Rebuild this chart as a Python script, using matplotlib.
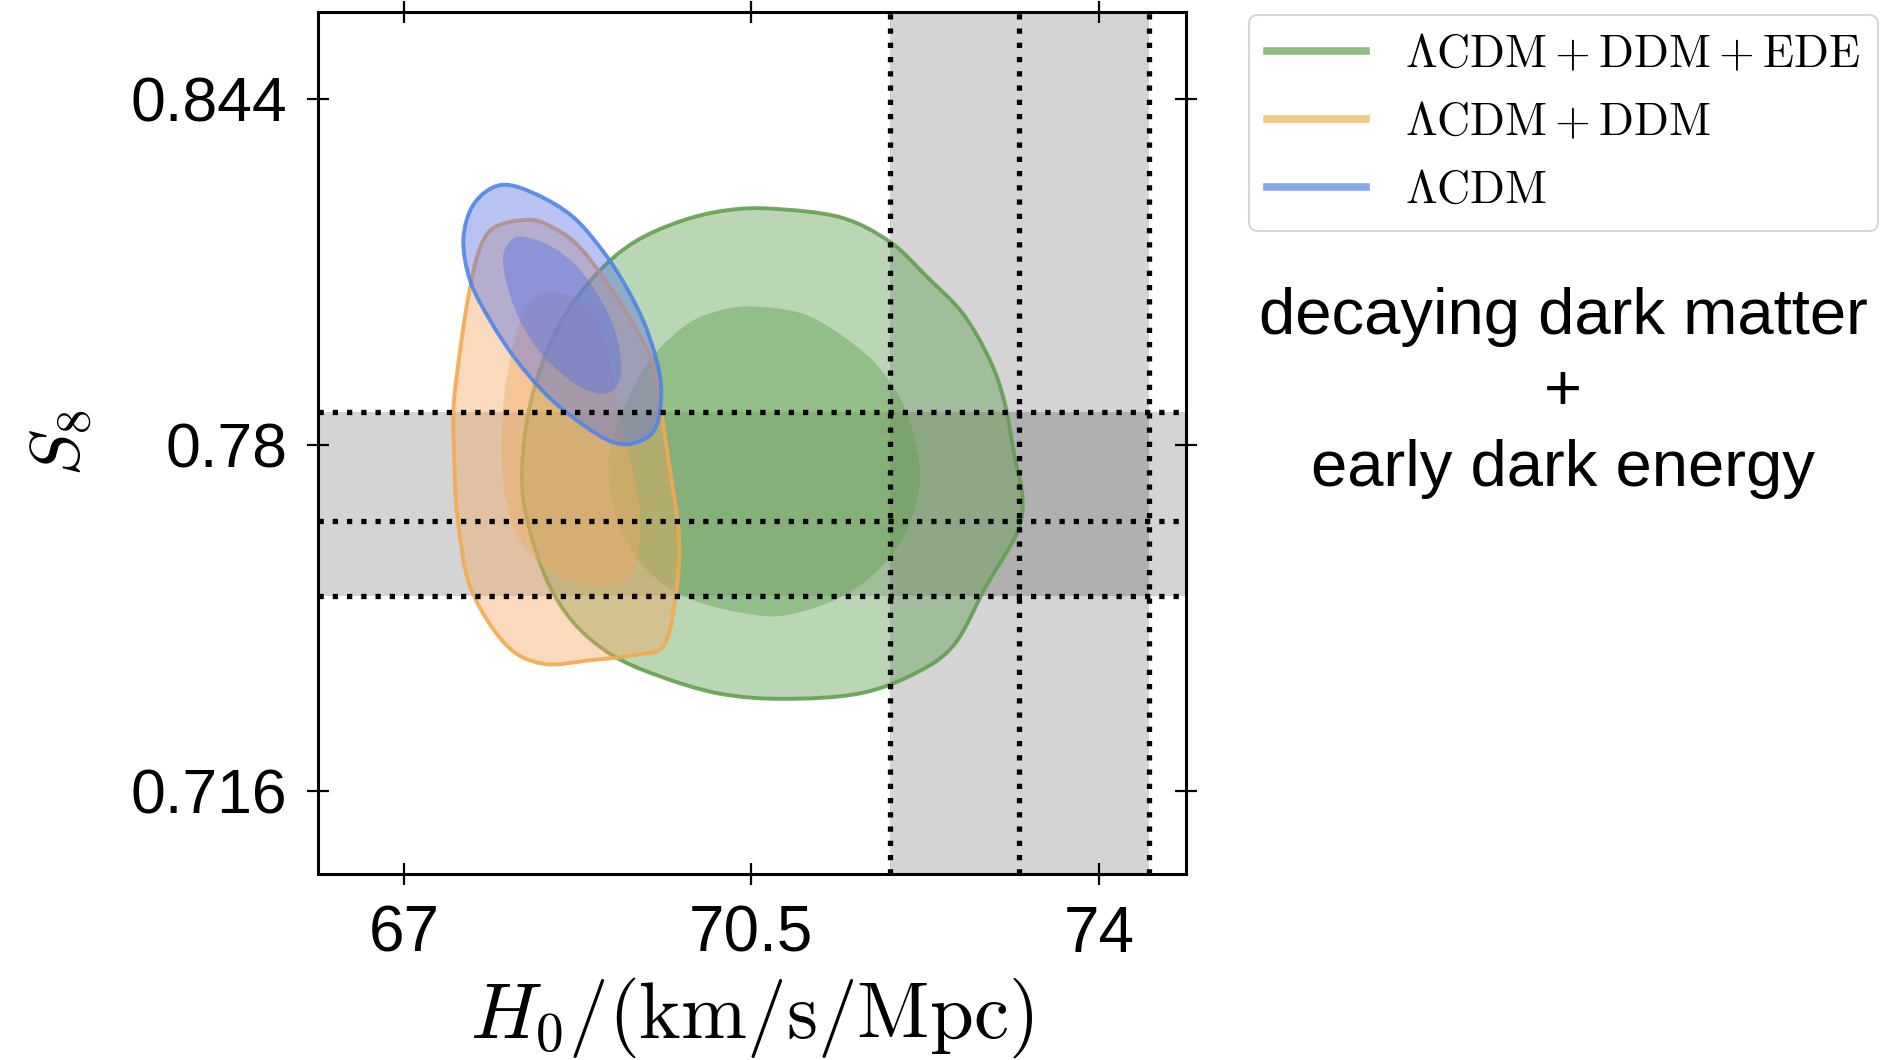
import numpy as np
import matplotlib
matplotlib.use("Agg")
import matplotlib.pyplot as plt
from matplotlib.path import Path
from matplotlib.patches import PathPatch
from matplotlib.lines import Line2D

plt.rcParams["mathtext.fontset"] = "cm"
plt.rcParams["font.family"] = ["Liberation Sans", "DejaVu Sans"]

# SH0ES H0 and KiDS-1000 S8 bands
H0_LOCAL = [71.9, 73.2, 74.5]
S8_WL = [0.752, 0.766, 0.786]

# 68% / 95% contours in the (H0, S8) plane
EDE_95_H0 = [70.71, 71.40, 71.90, 72.28, 72.63, 72.90, 73.05, 73.15, 73.23, 73.18,
             72.86, 72.55, 72.17, 71.59, 70.82, 70.17, 69.56, 69.09, 68.71, 68.44,
             68.25, 68.19, 68.23, 68.36, 68.59, 68.94, 69.32, 69.79, 70.25]
EDE_95_S8 = [0.8237, 0.8221, 0.8175, 0.8109, 0.8043, 0.7958, 0.7879, 0.7780, 0.7706, 0.7639,
             0.7537, 0.7432, 0.7379, 0.7340, 0.7330, 0.7340, 0.7373, 0.7412, 0.7471, 0.7550,
             0.7655, 0.7734, 0.7833, 0.7932, 0.8030, 0.8116, 0.8175, 0.8214, 0.8234]
EDE_68_H0 = [70.55, 71.01, 71.40, 71.78, 72.05, 72.19, 72.17, 72.01, 71.71, 71.32,
             70.82, 70.44, 69.94, 69.56, 69.25, 69.09, 69.07, 69.21, 69.48, 69.86, 70.21]
EDE_68_S8 = [0.8056, 0.8043, 0.8004, 0.7945, 0.7866, 0.7767, 0.7701, 0.7622, 0.7557, 0.7511,
             0.7484, 0.7488, 0.7511, 0.7550, 0.7616, 0.7701, 0.7780, 0.7866, 0.7958, 0.8024, 0.8050]

DDM_95_H0 = [68.21, 68.44, 68.79, 69.25, 69.52, 69.59, 69.67, 69.77, 69.75, 69.63, 69.36,
             68.90, 68.40, 68.02, 67.67, 67.54, 67.51, 67.50, 67.56, 67.64, 67.75, 67.90]
DDM_95_S8 = [0.8216, 0.8208, 0.8162, 0.8043, 0.7945, 0.7866, 0.7767, 0.7636, 0.7537, 0.7432, 0.7412,
             0.7402, 0.7395, 0.7432, 0.7537, 0.7668, 0.7767, 0.7866, 0.7965, 0.8063, 0.8155, 0.8201]
DDM_68_H0 = [68.44, 68.79, 69.02, 69.13, 69.21, 69.31, 69.38, 69.34,
             69.17, 68.82, 68.44, 68.13, 68.00, 68.00, 68.10, 68.23]
DDM_68_S8 = [0.8083, 0.8063, 0.7997, 0.7899, 0.7826, 0.7747, 0.7668, 0.7583,
             0.7544, 0.7540, 0.7570, 0.7636, 0.7734, 0.7866, 0.7984, 0.8050]

LCDM_95_H0 = [67.98, 68.33, 68.71, 69.02, 69.25, 69.44, 69.57, 69.59, 69.52,
              69.32, 69.09, 68.79, 68.44, 68.13, 67.87, 67.67, 67.60, 67.71]
LCDM_95_S8 = [0.8281, 0.8264, 0.8221, 0.8155, 0.8089, 0.8017, 0.7938, 0.7879, 0.7826,
              0.7803, 0.7806, 0.7839, 0.7892, 0.7958, 0.8030, 0.8103, 0.8181, 0.8247]
LCDM_68_H0 = [68.21, 68.48, 68.75, 68.98, 69.13, 69.19, 69.13,
              68.96, 68.71, 68.40, 68.17, 68.04, 68.00, 68.08]
LCDM_68_S8 = [0.8185, 0.8168, 0.8129, 0.8070, 0.8010, 0.7945, 0.7905,
              0.7895, 0.7915, 0.7965, 0.8030, 0.8096, 0.8149, 0.8178]

LABELS = [r"$\Lambda\mathrm{CDM} + \mathrm{DDM} + \mathrm{EDE}$",
          r"$\Lambda\mathrm{CDM} + \mathrm{DDM}$",
          r"$\Lambda\mathrm{CDM}$"]
X_TICKS = [67, 70.5, 74]
X_TICKLABELS = ["67", "70.5", "74"]
Y_TICKS = [0.716, 0.78, 0.844]
Y_TICKLABELS = ["0.716", "0.78", "0.844"]


def closed_curve(xs, ys):
    # closed Catmull-Rom curve through the contour points, as cubic Beziers
    pts = np.column_stack([xs, ys])
    n = len(pts)
    verts = [pts[0]]
    codes = [Path.MOVETO]
    for i in range(n):
        p0, p1, p2, p3 = pts[i - 1], pts[i], pts[(i + 1) % n], pts[(i + 2) % n]
        verts += [p1 + (p2 - p0) / 6, p2 - (p3 - p1) / 6, p2]
        codes += [Path.CURVE4] * 3
    verts.append(pts[0])
    codes.append(Path.CLOSEPOLY)
    return Path(verts, codes)


def add_contours(ax, outer, inner, fill, edge, z):
    p_out = closed_curve(*outer)
    p_in = closed_curve(*inner)
    ax.add_patch(PathPatch(p_out, facecolor=fill, edgecolor="none", alpha=0.42, zorder=z))
    ax.add_patch(PathPatch(p_in, facecolor=fill, edgecolor="none", alpha=0.42, zorder=z))
    ax.add_patch(PathPatch(p_out, facecolor="none", edgecolor=edge, lw=2.8, alpha=0.9, zorder=z))


fig = plt.figure(figsize=(18.96, 10.6), dpi=100)
ax = fig.add_axes([0.1677, 0.1755, 0.4578, 0.8132])

ax.axvspan(H0_LOCAL[0], H0_LOCAL[2], color="k", alpha=0.17, lw=0, zorder=1)
ax.axhspan(S8_WL[0], S8_WL[2], color="k", alpha=0.17, lw=0, zorder=1)

add_contours(ax, (EDE_95_H0, EDE_95_S8), (EDE_68_H0, EDE_68_S8), "#5f9e4e", "#62a04f", 2)
add_contours(ax, (DDM_95_H0, DDM_95_S8), (DDM_68_H0, DDM_68_S8), "#f2a860", "#f2aa50", 3)
add_contours(ax, (LCDM_95_H0, LCDM_95_S8), (LCDM_68_H0, LCDM_68_S8), "#5670e6", "#4f86e8", 4)

dots = (0, (1, 1.7))
for h in H0_LOCAL:
    ax.axvline(h, color="k", lw=3.8, linestyle=dots, zorder=5)
for s in S8_WL:
    ax.axhline(s, color="k", lw=3.8, linestyle=dots, zorder=5)

ax.set_xlim(66.136, 74.877)
ax.set_ylim(0.7006, 0.8601)
ax.set_xticks(X_TICKS)
ax.set_xticklabels(X_TICKLABELS)
ax.set_yticks(Y_TICKS)
ax.set_yticklabels(Y_TICKLABELS)
ax.tick_params(direction="inout", length=16, width=1.6, top=True, right=True)
ax.tick_params(axis="x", labelsize=46, pad=14)
ax.tick_params(axis="y", labelsize=45, pad=14)
for sp in ax.spines.values():
    sp.set_linewidth(2.2)

ax.set_xlabel(r"$H_0/(\mathrm{km/s/Mpc})$", fontsize=57)
ax.xaxis.set_label_coords(0.5, -0.118)
ax.set_ylabel(r"$S_8$", fontsize=50)
ax.yaxis.set_label_coords(-0.258, 0.5)

handles = [Line2D([], [], color=c, lw=5.5) for c in ["#93bd80", "#f6c885", "#86a8f1"]]
leg = fig.legend(handles, LABELS, loc="upper left", bbox_to_anchor=(0.6588, 0.9858),
                 borderaxespad=0, fontsize=33, handlelength=2.15, handletextpad=0.85,
                 borderpad=0.4, labelspacing=0.52, frameon=True, fancybox=True)
leg.get_frame().set_edgecolor("#cccccc")
leg.get_frame().set_linewidth(1.5)

fig.text(0.8244, 0.6292, "decaying dark matter\n+\nearly dark energy", ha="center",
         va="center", fontsize=47, linespacing=1.35, family=["Liberation Sans", "DejaVu Sans"])

fig.savefig("out.png", dpi=100)
